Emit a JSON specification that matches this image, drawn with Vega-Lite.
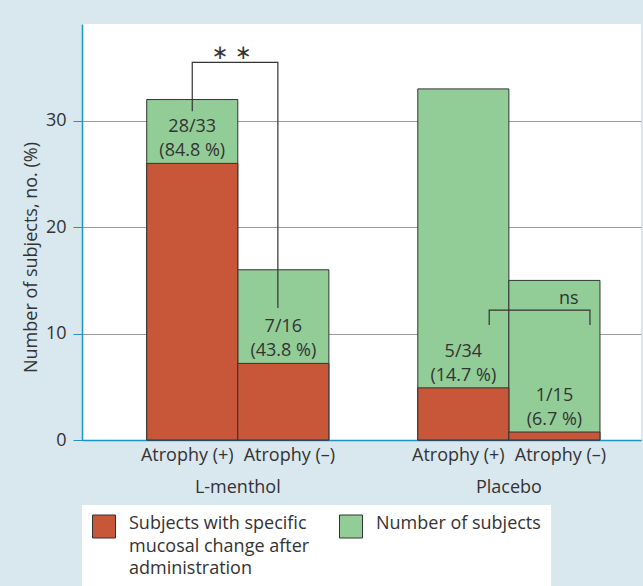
{
  "$schema": "https://vega.github.io/schema/vega-lite/v6.json",
  "width": 559,
  "height": 416,
  "autosize": {"type": "none"},
  "padding": {"left": 82, "top": 24, "right": 2, "bottom": 146},
  "background": "#d9e7ef",
  "config": {
    "view": {"fill": "white", "stroke": null},
    "font": "Open Sans",
    "axis": {"labelFont": "Open Sans", "titleFont": "Open Sans", "labelColor": "#333333", "titleColor": "#333333", "domainColor": "#1a93c6", "tickColor": "#1a93c6", "domainWidth": 1.5}
  },
  "datasets": {
    "bars": [
      {"group": "L-menthol", "atrophy": "Atrophy (+)", "total": 32, "count": 26, "lines": ["28/33", "(84.8 %)"]},
      {"group": "L-menthol", "atrophy": "Atrophy (–)", "total": 16, "count": 7.2, "lines": ["7/16", "(43.8 %)"]},
      {"group": "Placebo", "atrophy": "Atrophy (+)", "total": 33, "count": 4.9, "lines": ["5/34", "(14.7 %)"]},
      {"group": "Placebo", "atrophy": "Atrophy (–)", "total": 15, "count": 0.75, "lines": ["1/15", "(6.7 %)"]}
    ],
    "brackets": [
      {"b": "s", "group": "L-menthol", "pos": 0.25, "y": 30.9, "ord": 1},
      {"b": "s", "group": "L-menthol", "pos": 0.25, "y": 35.5, "ord": 2},
      {"b": "s", "group": "L-menthol", "pos": 0.72, "y": 35.5, "ord": 3},
      {"b": "s", "group": "L-menthol", "pos": 0.72, "y": 12.4, "ord": 4},
      {"b": "ns", "group": "Placebo", "pos": 0.392, "y": 10.8, "ord": 1},
      {"b": "ns", "group": "Placebo", "pos": 0.392, "y": 12.2, "ord": 2},
      {"b": "ns", "group": "Placebo", "pos": 0.945, "y": 12.2, "ord": 3},
      {"b": "ns", "group": "Placebo", "pos": 0.945, "y": 10.8, "ord": 4}
    ],
    "sig": [
      {"b": "s", "group": "L-menthol", "pos": 0.467, "y": 35.5, "label": "∗ ∗"},
      {"b": "ns", "group": "Placebo", "pos": 0.829, "y": 12.2, "label": "ns"}
    ]
  },
  "resolve": {"scale": {"xOffset": "independent"}},
  "layer": [
    {
      "data": {"name": "bars"},
      "mark": {"type": "bar", "stroke": "#333333", "strokeWidth": 1},
      "encoding": {
        "x": {"field": "group", "type": "nominal", "sort": null,
              "scale": {"type": "band", "domain": ["L-menthol", "Placebo"], "paddingInner": 0.328, "paddingOuter": 0.195, "align": 0.612},
              "axis": {"title": null, "ticks": false, "labelAngle": 0, "labelFontSize": 18, "labelPadding": 47, "labelBaseline": "middle", "grid": false}},
        "xOffset": {"field": "atrophy", "type": "nominal", "scale": {"type": "band", "domain": ["Atrophy (+)", "Atrophy (–)"], "paddingInner": 0, "paddingOuter": 0}},
        "y": {"field": "total", "type": "quantitative", "scale": {"domain": [0, 39.1], "nice": false},
              "axis": {"values": [0, 10, 20, 30], "grid": true, "gridColor": "#9a9a9a", "tickSize": 9, "labelFontSize": 18, "labelPadding": 7,
                       "title": "Number of subjects, no. (%)", "titleFontSize": 18, "titleFontWeight": "normal", "titleY": 233, "titlePadding": 5}},
        "color": {"datum": "Number of subjects", "type": "nominal",
                  "scale": {"domain": ["Subjects with specific mucosal change after administration", "Number of subjects"], "range": ["#c8573a", "#92cd97"]},
                  "legend": {"title": null, "orient": "none", "legendX": 0, "legendY": 481, "direction": "horizontal", "columns": 2,
                             "fillColor": "white", "padding": 10, "symbolType": "square", "symbolSize": 529, "symbolStrokeColor": "#333333",
                             "symbolStrokeWidth": 1, "symbolOpacity": 1, "labelFontSize": 18, "labelColor": "#333333", "labelOffset": 13,
                             "columnPadding": 27, "labelBaseline": "top", "labelLimit": 800,
                             "labelExpr": "datum.label === 'Number of subjects' ? ['Number of subjects\u00a0\u00a0\u00a0\u00a0\u00a0\u00a0\u00a0\u00a0\u00a0\u00a0\u00a0\u00a0\u00a0\u00a0\u00a0\u00a0\u00a0\u00a0\u00a0\u00a0\u00a0\u00a0\u00a0\u00a0\u00a0\u00a0\u00a0\u00a0\u00a0\u00a0\u00a0\u00a0\u00a0\u00a0\u00a0\u00a0\u00a0\u00a0\u00a0\u00a0\u00a0\u00a0\u00a0\u00a0\u00a0\u00a0\u00a0\u00a0\u00a0\u00a0\u00a0\u00a0\u00a0', '\u00a0', '\u00a0'] : ['Subjects with specific', 'mucosal change after', 'administration']",
                             "encode": {"symbols": {"update": {"y": {"value": 11.5}}}, "labels": {"update": {"y": {"value": 0}, "lineHeight": {"value": 22.5}}}}}}
      }
    },
    {
      "data": {"name": "bars"},
      "mark": {"type": "bar", "stroke": "#333333", "strokeWidth": 1},
      "encoding": {
        "x": {"field": "group", "type": "nominal"},
        "xOffset": {"field": "atrophy", "type": "nominal", "scale": {"type": "band", "domain": ["Atrophy (+)", "Atrophy (–)"], "paddingInner": 0, "paddingOuter": 0}},
        "y": {"field": "count", "type": "quantitative"},
        "color": {"datum": "Subjects with specific mucosal change after administration", "type": "nominal"}
      }
    },
    {
      "data": {"name": "bars"},
      "mark": {"type": "text", "baseline": "middle", "fontSize": 18, "lineHeight": 24, "dy": -36, "color": "#333333"},
      "encoding": {
        "x": {"field": "group", "type": "nominal"},
        "xOffset": {"field": "atrophy", "type": "nominal", "scale": {"type": "band", "domain": ["Atrophy (+)", "Atrophy (–)"], "paddingInner": 0, "paddingOuter": 0}},
        "y": {"field": "count", "type": "quantitative"},
        "text": {"field": "lines"}
      }
    },
    {
      "data": {"name": "bars"},
      "transform": [{"filter": "datum.atrophy === 'Atrophy (+)'"}],
      "mark": {"type": "text", "baseline": "middle", "fontSize": 18, "dy": 16, "dx": -5, "color": "#333333"},
      "encoding": {
        "x": {"field": "group", "type": "nominal"},
        "xOffset": {"field": "atrophy", "type": "nominal", "scale": {"type": "band", "domain": ["Atrophy (+)", "Atrophy (–)"], "paddingInner": 0, "paddingOuter": 0}},
        "y": {"datum": 0, "type": "quantitative"},
        "text": {"field": "atrophy"}
      }
    },
    {
      "data": {"name": "bars"},
      "transform": [{"filter": "datum.atrophy === 'Atrophy (–)'"}],
      "mark": {"type": "text", "baseline": "middle", "fontSize": 18, "dy": 16, "dx": 6, "color": "#333333"},
      "encoding": {
        "x": {"field": "group", "type": "nominal"},
        "xOffset": {"field": "atrophy", "type": "nominal", "scale": {"type": "band", "domain": ["Atrophy (+)", "Atrophy (–)"], "paddingInner": 0, "paddingOuter": 0}},
        "y": {"datum": 0, "type": "quantitative"},
        "text": {"field": "atrophy"}
      }
    },
    {
      "data": {"name": "brackets"},
      "mark": {"type": "line", "color": "#333333", "strokeWidth": 1.2},
      "encoding": {
        "x": {"field": "group", "type": "nominal"},
        "xOffset": {"field": "pos", "type": "quantitative", "scale": {"domain": [0, 1], "nice": false, "zero": false}},
        "y": {"field": "y", "type": "quantitative"},
        "order": {"field": "ord"},
        "detail": {"field": "b"}
      }
    },
    {
      "data": {"name": "sig"},
      "transform": [{"filter": "datum.b === 's'"}],
      "mark": {"type": "text", "font": "DejaVu Sans", "fontSize": 20, "baseline": "alphabetic", "dy": -3, "color": "#333333"},
      "encoding": {
        "x": {"field": "group", "type": "nominal"},
        "xOffset": {"field": "pos", "type": "quantitative", "scale": {"domain": [0, 1], "nice": false, "zero": false}},
        "y": {"field": "y", "type": "quantitative"},
        "text": {"field": "label"}
      }
    },
    {
      "data": {"name": "sig"},
      "transform": [{"filter": "datum.b === 'ns'"}],
      "mark": {"type": "text", "fontSize": 18, "baseline": "alphabetic", "dy": -6, "color": "#333333"},
      "encoding": {
        "x": {"field": "group", "type": "nominal"},
        "xOffset": {"field": "pos", "type": "quantitative", "scale": {"domain": [0, 1], "nice": false, "zero": false}},
        "y": {"field": "y", "type": "quantitative"},
        "text": {"field": "label"}
      }
    }
  ]
}
